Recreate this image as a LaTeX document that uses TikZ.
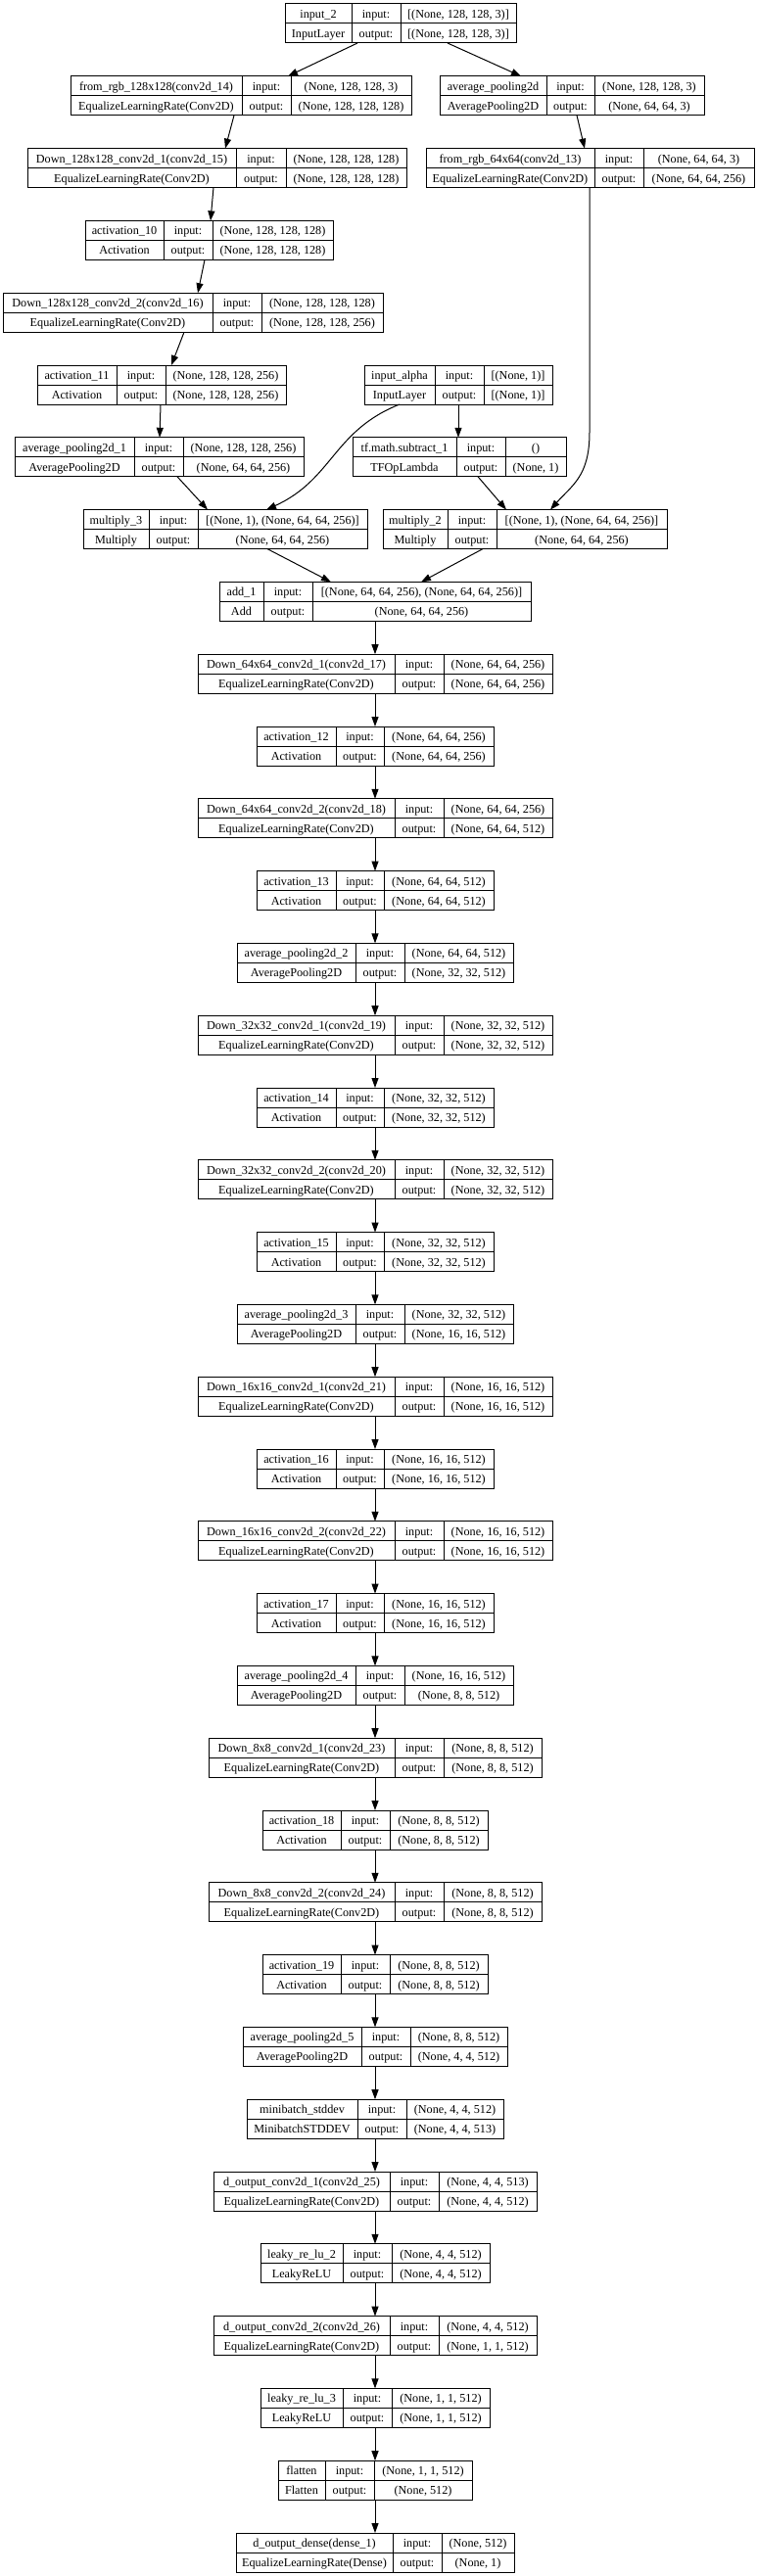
\documentclass[tikz,border=0pt]{standalone}
\usepackage{fontspec}
\setmainfont{Liberation Serif}
\usetikzlibrary{arrows.meta}

\tikzset{
  layerbox/.style={draw, rectangle, line width=1pt, minimum height=40pt, inner sep=0pt, outer sep=0pt},
  celltext/.style={inner sep=0pt, anchor=base, font=\fontsize{12.2}{14}\selectfont},
  flow/.style={line width=1pt, -{Triangle[length=10pt,width=7pt]}},
}

% one keras layer: name, level, x0/x1/x2/x3, layer name, class, input, output
\def\splitcols#1/#2/#3/#4\relax{\def\colA{#1}\def\colB{#2}\def\colC{#3}\def\colD{#4}}
\newcommand{\layer}[7]{%
  \splitcols#3\relax
  \pgfmathsetmacro{\rowtop}{4+(#2-1)*73.8}
  \pgfmathsetmacro{\rowmid}{\rowtop+20}
  \pgfmathsetmacro{\rowbot}{\rowtop+40}
  \pgfmathsetmacro{\boxw}{\colD-\colA}
  \pgfmathsetmacro{\boxcx}{(\colA+\colD)/2}
  \node[layerbox, minimum width=\boxw pt] (#1) at (\boxcx,\rowmid) {};
  \draw[line width=1pt] (\colB,\rowtop) -- (\colB,\rowbot) (\colC,\rowtop) -- (\colC,\rowbot) (\colA,\rowmid) -- (\colD,\rowmid);
  \node[celltext] (#1-name) at ({(\colA+\colB)/2},{\rowtop+14.5}) {#4};
  \node[celltext] (#1-class) at ({(\colA+\colB)/2},{\rowtop+34.5}) {#5};
  \node[celltext] (#1-inl) at ({(\colB+\colC)/2},{\rowtop+14.5}) {input:};
  \node[celltext] (#1-outl) at ({(\colB+\colC)/2},{\rowtop+34.5}) {output:};
  \node[celltext] (#1-in) at ({(\colC+\colD)/2},{\rowtop+14.5}) {#6};
  \node[celltext] (#1-out) at ({(\colC+\colD)/2},{\rowtop+34.5}) {#7};
}

\begin{document}
\begin{tikzpicture}[x=1pt,y=-1pt]
  \useasboundingbox (0,0) rectangle (772,2631);

  % two input branches
  \layer{input2}{1}{291/359/409/527}{input\_2}{InputLayer}{[(None, 128, 128, 3)]}{[(None, 128, 128, 3)]}
  \layer{fromrgbA}{2}{72/247/297/420}{from\_rgb\_128x128(conv2d\_14)}{EqualizeLearningRate(Conv2D)}{(None, 128, 128, 3)}{(None, 128, 128, 128)}
  \layer{avgpoolA}{2}{449/558/607/719}{average\_pooling2d}{AveragePooling2D}{(None, 128, 128, 3)}{(None, 64, 64, 3)}
  \layer{downA}{3}{28/241/292/415}{Down\_128x128\_conv2d\_1(conv2d\_15)}{EqualizeLearningRate(Conv2D)}{(None, 128, 128, 128)}{(None, 128, 128, 128)}
  \layer{fromrgbB}{3}{435/607/657/770}{from\_rgb\_64x64(conv2d\_13)}{EqualizeLearningRate(Conv2D)}{(None, 64, 64, 3)}{(None, 64, 64, 256)}
  \layer{actA}{4}{87/167/217/340}{activation\_10}{Activation}{(None, 128, 128, 128)}{(None, 128, 128, 128)}
  \layer{downB}{5}{3/217/267/391}{Down\_128x128\_conv2d\_2(conv2d\_16)}{EqualizeLearningRate(Conv2D)}{(None, 128, 128, 128)}{(None, 128, 128, 256)}
  \layer{actB}{6}{38/119/169/292}{activation\_11}{Activation}{(None, 128, 128, 256)}{(None, 128, 128, 256)}
  \layer{inalpha}{6}{372/444/494/564}{input\_alpha}{InputLayer}{[(None, 1)]}{[(None, 1)]}
  \layer{avgpoolB}{7}{15/137/187/310}{average\_pooling2d\_1}{AveragePooling2D}{(None, 128, 128, 256)}{(None, 64, 64, 256)}
  \layer{subtract}{7}{360/466/516/578}{tf.math.subtract\_1}{TFOpLambda}{()}{(None, 1)}
  \layer{mulA}{8}{85/152/202/375}{multiply\_3}{Multiply}{[(None, 1), (None, 64, 64, 256)]}{(None, 64, 64, 256)}
  \layer{mulB}{8}{391/457/507/681}{multiply\_2}{Multiply}{[(None, 1), (None, 64, 64, 256)]}{(None, 64, 64, 256)}
  \layer{add}{9}{224/269/319/542}{add\_1}{Add}{[(None, 64, 64, 256), (None, 64, 64, 256)]}{(None, 64, 64, 256)}

  % main chain
  \layer{downC}{10}{202/403/453/564}{Down\_64x64\_conv2d\_1(conv2d\_17)}{EqualizeLearningRate(Conv2D)}{(None, 64, 64, 256)}{(None, 64, 64, 256)}
  \layer{actC}{11}{262/343/392/504}{activation\_12}{Activation}{(None, 64, 64, 256)}{(None, 64, 64, 256)}
  \layer{downD}{12}{202/403/453/564}{Down\_64x64\_conv2d\_2(conv2d\_18)}{EqualizeLearningRate(Conv2D)}{(None, 64, 64, 256)}{(None, 64, 64, 512)}
  \layer{actD}{13}{262/343/392/504}{activation\_13}{Activation}{(None, 64, 64, 512)}{(None, 64, 64, 512)}
  \layer{avgpoolC}{14}{242/363/413/524}{average\_pooling2d\_2}{AveragePooling2D}{(None, 64, 64, 512)}{(None, 32, 32, 512)}
  \layer{downE}{15}{202/403/453/564}{Down\_32x32\_conv2d\_1(conv2d\_19)}{EqualizeLearningRate(Conv2D)}{(None, 32, 32, 512)}{(None, 32, 32, 512)}
  \layer{actE}{16}{262/343/392/504}{activation\_14}{Activation}{(None, 32, 32, 512)}{(None, 32, 32, 512)}
  \layer{downF}{17}{202/403/453/564}{Down\_32x32\_conv2d\_2(conv2d\_20)}{EqualizeLearningRate(Conv2D)}{(None, 32, 32, 512)}{(None, 32, 32, 512)}
  \layer{actF}{18}{262/343/392/504}{activation\_15}{Activation}{(None, 32, 32, 512)}{(None, 32, 32, 512)}
  \layer{avgpoolD}{19}{242/363/413/524}{average\_pooling2d\_3}{AveragePooling2D}{(None, 32, 32, 512)}{(None, 16, 16, 512)}
  \layer{downG}{20}{202/403/453/564}{Down\_16x16\_conv2d\_1(conv2d\_21)}{EqualizeLearningRate(Conv2D)}{(None, 16, 16, 512)}{(None, 16, 16, 512)}
  \layer{actG}{21}{262/343/392/504}{activation\_16}{Activation}{(None, 16, 16, 512)}{(None, 16, 16, 512)}
  \layer{downH}{22}{202/403/453/564}{Down\_16x16\_conv2d\_2(conv2d\_22)}{EqualizeLearningRate(Conv2D)}{(None, 16, 16, 512)}{(None, 16, 16, 512)}
  \layer{actH}{23}{262/343/392/504}{activation\_17}{Activation}{(None, 16, 16, 512)}{(None, 16, 16, 512)}
  \layer{avgpoolE}{24}{242/363/413/524}{average\_pooling2d\_4}{AveragePooling2D}{(None, 16, 16, 512)}{(None, 8, 8, 512)}
  \layer{downI}{25}{213/403/453/553}{Down\_8x8\_conv2d\_1(conv2d\_23)}{EqualizeLearningRate(Conv2D)}{(None, 8, 8, 512)}{(None, 8, 8, 512)}
  \layer{actI}{26}{268/348/398/498}{activation\_18}{Activation}{(None, 8, 8, 512)}{(None, 8, 8, 512)}
  \layer{downJ}{27}{213/403/453/553}{Down\_8x8\_conv2d\_2(conv2d\_24)}{EqualizeLearningRate(Conv2D)}{(None, 8, 8, 512)}{(None, 8, 8, 512)}
  \layer{actJ}{28}{268/348/398/498}{activation\_19}{Activation}{(None, 8, 8, 512)}{(None, 8, 8, 512)}
  \layer{avgpoolF}{29}{248/369/419/518}{average\_pooling2d\_5}{AveragePooling2D}{(None, 8, 8, 512)}{(None, 4, 4, 512)}
  \layer{mbstd}{30}{252/365/415/514}{minibatch\_stddev}{MinibatchSTDDEV}{(None, 4, 4, 512)}{(None, 4, 4, 513)}
  \layer{outconvA}{31}{218/398/448/548}{d\_output\_conv2d\_1(conv2d\_25)}{EqualizeLearningRate(Conv2D)}{(None, 4, 4, 513)}{(None, 4, 4, 512)}
  \layer{leakyA}{32}{266/350/400/500}{leaky\_re\_lu\_2}{LeakyReLU}{(None, 4, 4, 512)}{(None, 4, 4, 512)}
  \layer{outconvB}{33}{218/398/448/548}{d\_output\_conv2d\_2(conv2d\_26)}{EqualizeLearningRate(Conv2D)}{(None, 4, 4, 512)}{(None, 1, 1, 512)}
  \layer{leakyB}{34}{266/350/400/500}{leaky\_re\_lu\_3}{LeakyReLU}{(None, 1, 1, 512)}{(None, 1, 1, 512)}
  \layer{flat}{35}{284/332/382/482}{flatten}{Flatten}{(None, 1, 1, 512)}{(None, 512)}
  \layer{dense}{36}{241/401/451/525}{d\_output\_dense(dense\_1)}{EqualizeLearningRate(Dense)}{(None, 512)}{(None, 1)}

  % connectors of the branches
  \draw[flow] ([xshift=74pt]input2.south west) -- ([xshift=222pt]fromrgbA.north west);
  \draw[flow] ([xshift=166pt]input2.south west) -- ([xshift=83pt]avgpoolA.north west);
  \draw[flow] ([xshift=167pt]fromrgbA.south west) -- ([xshift=202pt]downA.north west);
  \draw[flow] ([xshift=140pt]avgpoolA.south west) -- ([xshift=162pt]fromrgbB.north west);
  \draw[flow] ([xshift=190pt]downA.south west) -- ([xshift=128pt]actA.north west);
  \draw[flow] ([xshift=122pt]actA.south west) -- ([xshift=199pt]downB.north west);
  \draw[flow] ([xshift=185pt]downB.south west) -- ([xshift=137pt]actB.north west);
  \draw[flow] ([xshift=126pt]actB.south west) -- ([xshift=148pt]avgpoolB.north west);
  \draw[flow] ([xshift=166pt]avgpoolB.south west) -- ([xshift=127pt]mulA.north west);
  \draw[flow] ([xshift=36pt]inalpha.south west) .. controls +(-68,27) and +(68,-31) .. ([xshift=187pt]mulA.north west);
  \draw[flow] ([xshift=96pt]inalpha.south west) -- ([xshift=108pt]subtract.north west);
  \draw[flow] ([xshift=167pt]fromrgbB.south west) -- ++(0,250) .. controls +(0,45) and +(22,-25) .. ([xshift=171pt]mulB.north west);
  \draw[flow] ([xshift=128pt]subtract.south west) -- ([xshift=126pt]mulB.north west);
  \draw[flow] ([xshift=188pt]mulA.south west) -- ([xshift=114pt]add.north west);
  \draw[flow] ([xshift=102pt]mulB.south west) -- ([xshift=206pt]add.north west);

  % connectors of the chain
  \draw[flow] (add.south) -- (downC.north);
  \draw[flow] (downC.south) -- (actC.north);
  \draw[flow] (actC.south) -- (downD.north);
  \draw[flow] (downD.south) -- (actD.north);
  \draw[flow] (actD.south) -- (avgpoolC.north);
  \draw[flow] (avgpoolC.south) -- (downE.north);
  \draw[flow] (downE.south) -- (actE.north);
  \draw[flow] (actE.south) -- (downF.north);
  \draw[flow] (downF.south) -- (actF.north);
  \draw[flow] (actF.south) -- (avgpoolD.north);
  \draw[flow] (avgpoolD.south) -- (downG.north);
  \draw[flow] (downG.south) -- (actG.north);
  \draw[flow] (actG.south) -- (downH.north);
  \draw[flow] (downH.south) -- (actH.north);
  \draw[flow] (actH.south) -- (avgpoolE.north);
  \draw[flow] (avgpoolE.south) -- (downI.north);
  \draw[flow] (downI.south) -- (actI.north);
  \draw[flow] (actI.south) -- (downJ.north);
  \draw[flow] (downJ.south) -- (actJ.north);
  \draw[flow] (actJ.south) -- (avgpoolF.north);
  \draw[flow] (avgpoolF.south) -- (mbstd.north);
  \draw[flow] (mbstd.south) -- (outconvA.north);
  \draw[flow] (outconvA.south) -- (leakyA.north);
  \draw[flow] (leakyA.south) -- (outconvB.north);
  \draw[flow] (outconvB.south) -- (leakyB.north);
  \draw[flow] (leakyB.south) -- (flat.north);
  \draw[flow] (flat.south) -- (dense.north);
\end{tikzpicture}
\end{document}
